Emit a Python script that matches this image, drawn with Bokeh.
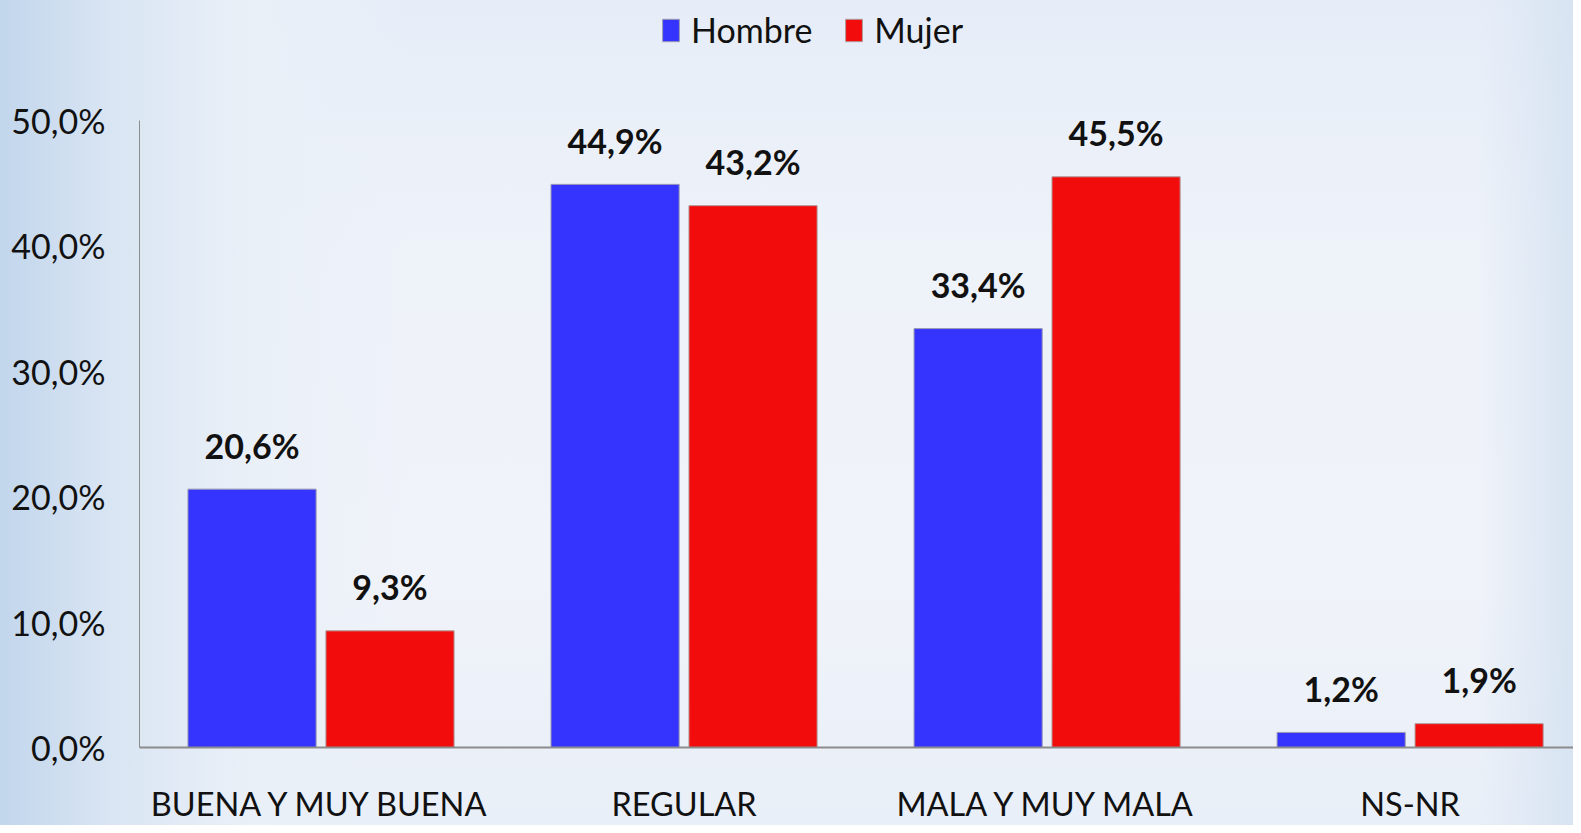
from bokeh.plotting import figure
from bokeh.models import Range1d, FixedTicker, Legend, LegendItem, ColumnDataSource
from bokeh.core.properties import value
from bokeh.embed import file_html
from bokeh.resources import INLINE

categories = ["BUENA Y MUY BUENA", "REGULAR", "MALA Y MUY MALA", "NS-NR"]
hombre = [20.6, 44.9, 33.4, 1.2]
mujer = [9.3, 43.2, 45.5, 1.9]
y_ticks = [0, 10, 20, 30, 40, 50]
y_tick_labels = ["0,0%", "10,0%", "20,0%", "30,0%", "40,0%", "50,0%"]

def fmt(v):
    return f"{v:.1f}".replace(".", ",") + "%"

xs = list(range(len(categories)))
FONT = "Lato"

p = figure(width=1573, height=825, output_backend="svg", toolbar_location=None,
           x_range=Range1d(-0.5, 3.450), y_range=Range1d(0, 59.0),
           min_border_left=139, min_border_right=0, min_border_top=7, min_border_bottom=77)
p.styles = {"background": "linear-gradient(to right, #c2d6ec 0%, #d9e5f3 7%, #eaf0f8 16%, rgba(238,242,249,0) 26%), "
                          "linear-gradient(to left, #d8e4f2 0%, rgba(238,242,249,0) 6%), "
                          "linear-gradient(to bottom, #e6edf8 0%, #eef2f9 30%, #f0f3f9 70%, #e9eff8 100%)"}
p.border_fill_alpha = 0
p.background_fill_alpha = 0
p.outline_line_color = None
p.grid.visible = False

src_h = ColumnDataSource(dict(x=[x - 0.19 for x in xs], top=hombre, lab=[fmt(v) for v in hombre]))
src_m = ColumnDataSource(dict(x=[x + 0.19 for x in xs], top=mujer, lab=[fmt(v) for v in mujer]))

rh = p.vbar(x="x", top="top", width=0.353, source=src_h, fill_color="#3434FE", line_color="#9a9ab0", line_width=1)
rm = p.vbar(x="x", top="top", width=0.353, source=src_m, fill_color="#F20C0C", line_color="#b09a9a", line_width=1)

for s in (src_h, src_m):
    p.text(x="x", y="top", text="lab", source=s, text_align="center", text_baseline="alphabetic",
           y_offset=-44, text_font=value(FONT), text_font_style="bold", text_font_size="34px",
           text_color="#111111")

xa = p.xaxis[0]
xa.ticker = FixedTicker(ticks=xs)
xa.major_label_overrides = {i: c for i, c in enumerate(categories)}
xa.major_tick_line_color = None
xa.minor_tick_line_color = None
xa.major_tick_in = 0
xa.major_tick_out = 0
xa.axis_line_color = "#8c8c8c"
xa.axis_line_width = 2
xa.major_label_text_font = FONT
xa.major_label_text_font_size = "32.5px"
xa.major_label_text_color = "#111111"
xa.major_label_standoff = 36

ya = p.yaxis[0]
ya.ticker = FixedTicker(ticks=y_ticks)
ya.bounds = (0, 50)
ya.major_label_overrides = {t: l for t, l in zip(y_ticks, y_tick_labels)}
ya.major_tick_line_color = None
ya.minor_tick_line_color = None
ya.major_tick_in = 0
ya.major_tick_out = 0
ya.axis_line_color = "#8c8c8c"
ya.axis_line_width = 1
ya.major_label_text_font = FONT
ya.major_label_text_font_size = "34px"
ya.major_label_text_color = "#111111"
ya.major_label_standoff = 34

legend = Legend(items=[LegendItem(label="Hombre", renderers=[rh]), LegendItem(label="Mujer", renderers=[rm])],
                location=(521, 697), orientation="horizontal",
                glyph_width=21, glyph_height=28, label_standoff=10, spacing=31, padding=0, margin=0,
                label_text_font=FONT, label_text_font_size="34px", label_text_color="#111111",
                background_fill_alpha=0, border_line_alpha=0)
p.add_layout(legend, "center")

open("out.html", "w").write(file_html(p, INLINE))
